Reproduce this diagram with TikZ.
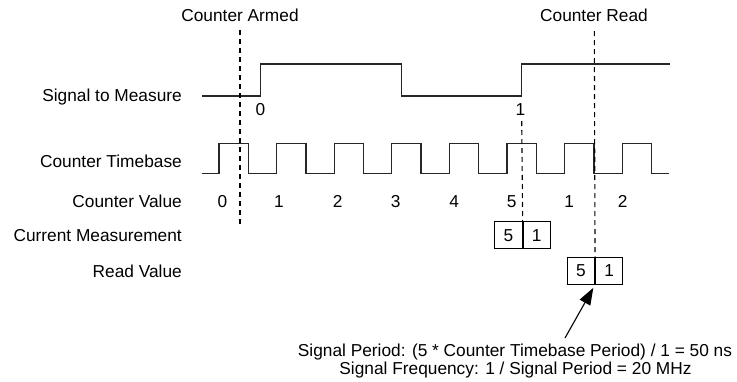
\documentclass[tikz,border=0pt]{standalone}
\usepackage{fontspec}
\setmainfont{Liberation Sans}
\usetikzlibrary{arrows.meta}
\begin{document}
\begin{tikzpicture}[x=1pt,y=-1pt,
  lbl/.style={font=\fontsize{17.3}{20}\selectfont, inner sep=0pt},
  sig/.style={line width=1.3pt, draw=black!85, line join=miter},
  guide/.style={line width=1.1pt, dash pattern=on 5pt off 4pt},
  cell/.style={draw, line width=1.1pt, minimum width=27.2pt, minimum height=27pt, inner sep=0pt, font=\fontsize{17.3}{20}\selectfont},
  arr/.style={line width=1.1pt, -{Triangle[length=17pt,width=12pt]}}]
\useasboundingbox (0,0) rectangle (737,381);

% row labels
\node[lbl, anchor=base east] (lsig) at (182,101) {Signal to Measure};
\node[lbl, anchor=base east] (ltb)  at (182,167) {Counter Timebase};
\node[lbl, anchor=base east] (lcv)  at (182,207) {Counter Value};
\node[lbl, anchor=base east] (lcm)  at (182,241.5) {Current Measurement};
\node[lbl, anchor=base east] (lrv)  at (182,277) {Read Value};

% titles
\node[lbl, anchor=base] (armed) at (240,21.5) {Counter Armed};
\node[lbl, anchor=base] (readt) at (594,21.5) {Counter Read};

% signal to measure
\draw[sig] (202,96) -- (260.7,96) -- (260.7,64) -- (401.7,64) -- (401.7,96)
  -- (521.7,96) -- (521.7,64) -- (670,64);
\node[lbl, anchor=base] (e0) at (260.5,115.5) {0};
\node[lbl, anchor=base] (e1) at (520.5,115.5) {1};

% counter timebase
\draw[sig] (201.7,173.3)
  \foreach \r in {219,276.6,334.2,391.8,449.4,507,564.6,622.2}
  { -- (\r,173.3) -- (\r,143.7) -- (\r+29.3,143.7) -- (\r+29.3,173.3) }
  -- (669.3,173.3);

% counter values
\foreach \x/\v [count=\i] in {222.5/0,279/1,337.7/2,395.7/3,454.3/4,511.7/5,569.3/1,622.7/2}
  \node[lbl, anchor=base] (cv\i) at (\x,207) {\v};

% boxes
\node[cell] (cm5) at (508.5,235.3) {5};
\node[cell, anchor=west] (cm1) at (cm5.east) {1};
\node[cell] (rv5) at (580.9,270.7) {5};
\node[cell, anchor=west] (rv1) at (rv5.east) {1};

% dashed guides
\coordinate (armtop) at (240,30);
\coordinate (armbot) at (240,224);
\coordinate (readtop) at (594.3,31);
\coordinate (onetop) at (521.7,121);
\draw[guide] (armtop) -- (armbot);
\draw[guide] (readtop) -- (rv5.north east);
\draw[guide] (onetop) -- (cm5.north east);

% note
\node[lbl, anchor=base] (note1) at (515,356) {Signal Period: (5 * Counter Timebase Period) / 1 = 50 ns};
\node[lbl, anchor=base] (note2) at (515.5,374) {Signal Frequency: 1 / Signal Period = 20 MHz};
\coordinate (arrstart) at (565,338);
\draw[arr, shorten >=3.5pt] (arrstart) -- (rv5.south east);
\end{tikzpicture}
\end{document}
